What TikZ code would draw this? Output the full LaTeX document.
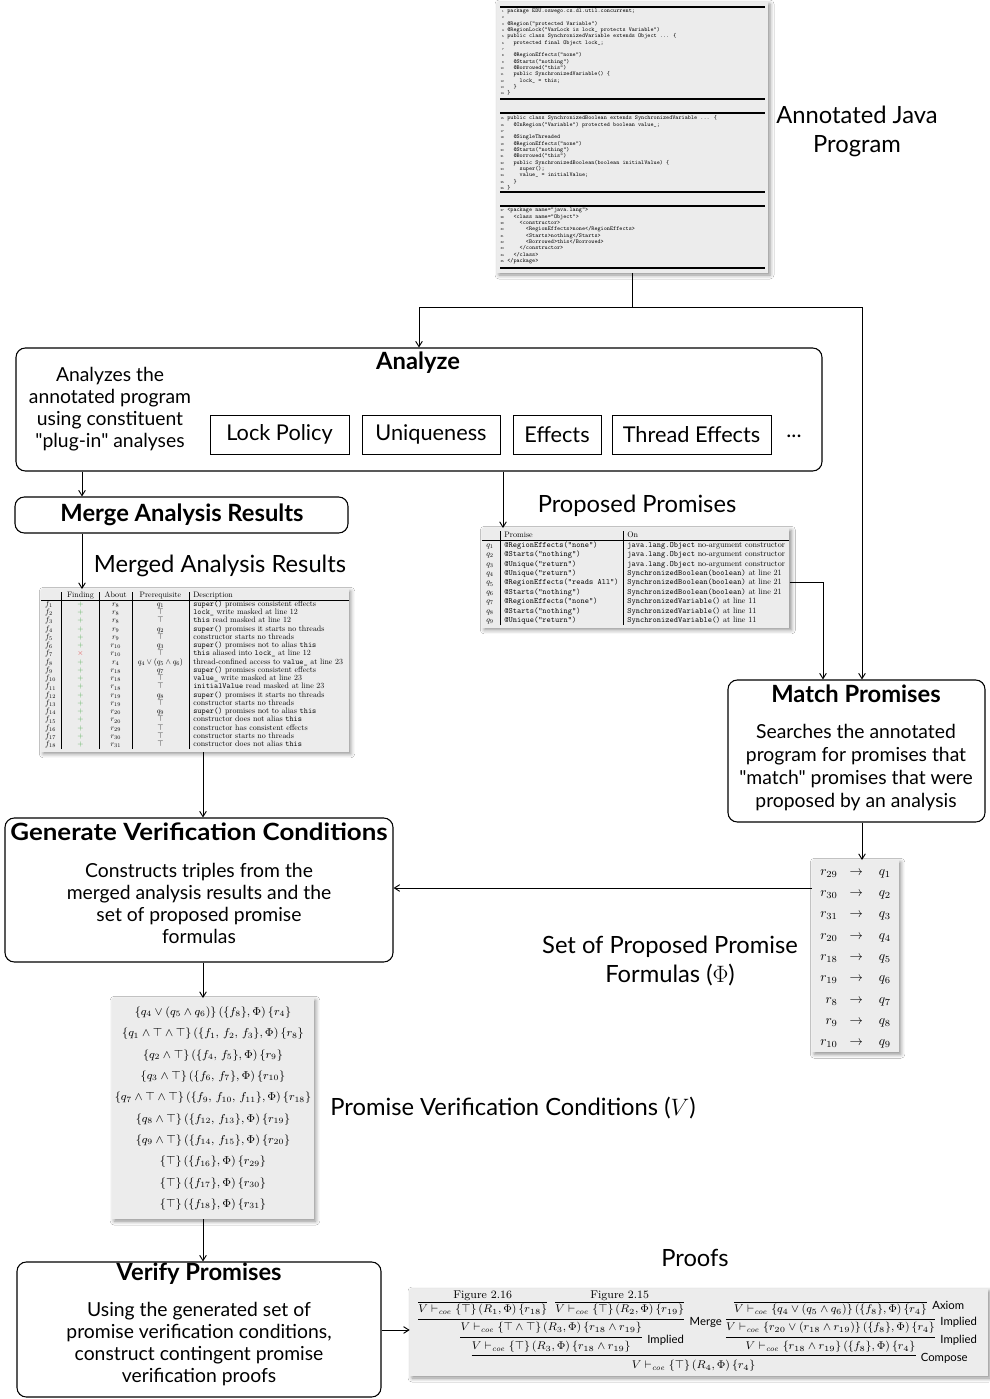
\RequirePackage{fix-cm}
\documentclass[tikz,border=0pt]{standalone}
\usepackage[no-math]{fontspec}
\usepackage{array}
\usepackage{graphicx}
\usetikzlibrary{arrows.meta,fit,calc,shadows.blur}
\newfontfamily\labelfont{Lato}
\definecolor{panelgray}{gray}{0.925}
\definecolor{okgreen}{RGB}{70,170,70}
\definecolor{badred}{RGB}{225,70,70}
% tiny line numbers for the code listing
\newcommand\lno[1]{\llap{\fontsize{2.4}{2.4}\selectfont#1\hspace{2.5pt}}}
\newcommand\coe{\vdash_{\mathit{coe}}}
\newcommand\ok{\textcolor{okgreen}{+}}
\newcommand\bad{\textcolor{badred}{$\times$}}
\newcommand\tcode[1]{\texttt{#1}}

\begin{document}
\begin{tikzpicture}[x=0.75pt,y=-0.75pt,
  panel/.style={fill=panelgray, inner sep=0pt,
    blur shadow={shadow xshift=1.5pt, shadow yshift=-1.5pt, shadow blur radius=3pt, shadow opacity=45}},
  stepbox/.style={draw, line width=0.8pt, rounded corners=7pt, inner sep=0pt},
  plugbox/.style={draw, line width=0.6pt, inner sep=0pt, font=\labelfont\fontsize{16.3}{19}\selectfont},
  title/.style={font=\labelfont\bfseries\fontsize{17.8}{21}\selectfont, inner sep=0pt},
  body/.style={font=\labelfont\fontsize{14.5}{16.5}\selectfont, align=center, inner sep=0pt},
  caption/.style={font=\labelfont\fontsize{17.8}{21.75}\selectfont, align=center, inner sep=0pt},
  conn/.style={line width=0.7pt},
  arr/.style={conn, -{Straight Barb[length=4pt,width=5pt]}},
  code/.style={font=\ttfamily\fontsize{4.4}{4.75}\selectfont, align=left, anchor=west, inner sep=0pt},
  coderule/.style={line width=0.9pt},
  rulelbl/.style={font=\labelfont\fontsize{8.5}{10}\selectfont, anchor=west, inner sep=0pt},
  fml/.style={inner sep=0pt, font=\fontsize{8.4}{11}\selectfont},
  infline/.style={line width=0.6pt},
]
\fill[white] (0,0) rectangle (989,1399);
\useasboundingbox (0,0) rectangle (989,1399);

% ---------- annotated Java program ----------
\node[panel, fit={(497,2) (768,273)}] (java) {};
\draw[coderule] (500,7) -- (765,7);
\draw[coderule] (500,99) -- (765,99);
\draw[coderule] (500,113) -- (765,113);
\draw[coderule] (500,192) -- (765,192);
\draw[coderule] (500,206) -- (765,206);
\draw[coderule] (500,268) -- (765,268);
\node[code] (code1) at (507,52) {%
\lno{1}package EDU.oswego.cs.dl.util.concurrent;\\
\lno{2}\\
\lno{3}@Region("protected Variable")\\
\lno{4}@RegionLock("VarLock is lock\_ protects Variable")\\
\lno{5}public class SynchronizedVariable extends Object ... \{\\
\lno{6}~~protected final Object lock\_;\\
\lno{7}\\
\lno{8}~~@RegionEffects("none")\\
\lno{9}~~@Starts("nothing")\\
\lno{10}~~@Borrowed("this")\\
\lno{11}~~public SynchronizedVariable() \{\\
\lno{12}~~~~lock\_ = this;\\
\lno{13}~~\}\\
\lno{14}\}};
\node[code] (code2) at (507,153) {%
\lno{15}public class SynchronizedBoolean extends SynchronizedVariable ... \{\\
\lno{16}~~@InRegion("Variable") protected boolean value\_;\\
\lno{17}\\
\lno{18}~~@SingleThreaded\\
\lno{19}~~@RegionEffects("none")\\
\lno{20}~~@Starts("nothing")\\
\lno{21}~~@Borrowed("this")\\
\lno{22}~~public SynchronizedBoolean(boolean initialValue) \{\\
\lno{23}~~~~super();\\
\lno{24}~~~~value\_ = initialValue;\\
\lno{25}~~\}\\
\lno{26}\}};
\node[code] (code3) at (507,236) {%
\lno{27}<package name="java.lang">\\
\lno{28}~~<class name="Object">\\
\lno{29}~~~~<constructor>\\
\lno{30}~~~~~~<RegionEffects>none</RegionEffects>\\
\lno{31}~~~~~~<Starts>nothing</Starts>\\
\lno{32}~~~~~~<Borrowed>this</Borrowed>\\
\lno{33}~~~~</constructor>\\
\lno{34}~~</class>\\
\lno{35}</package>};
\node[caption] (javacap) at (857,131) {Annotated Java\\Program};

% ---------- process boxes ----------
\node[stepbox, fit={(16,348) (822,471)}] (analyze) {};
\node[title] (analyzet) at (418,363) {Analyze};
\node[body] (analyzeb) at (110,409) {Analyzes the\\annotated program\\using constituent\\"plug-in" analyses};
\node[plugbox, minimum width=104.25pt, minimum height=29.25pt] (lock) at (279.5,434.5) {Lock Policy};
\node[plugbox, minimum width=103.5pt, minimum height=29.25pt] (uniq) at (431,434.5) {Uniqueness};
\node[plugbox, minimum width=66pt, minimum height=29.25pt] (eff) at (557,434.5) {Effects};
\node[plugbox, minimum width=119.25pt, minimum height=29.25pt] (thr) at (691.5,434.5) {Thread Effects};
\node[body, font=\labelfont\fontsize{16}{19}\selectfont] (more) at (794,436) {...};

\node[stepbox, fit={(15,497) (348,533)}] (merge) {};
\node[title] (merget) at (182,515) {Merge Analysis Results};

\node[stepbox, fit={(728,680) (985,822)}] (match) {};
\node[title] (matcht) at (856,694) {Match Promises};
\node[body, font=\labelfont\fontsize{14.5}{17.25}\selectfont] (matchb) at (856,768) {Searches the annotated\\program for promises that\\"match" promises that were\\proposed by an analysis};

\node[stepbox, fit={(5,818) (393,962)}] (gvc) {};
\node[title, xscale=1.09] (gvct) at (199,832) {Generate Verification Conditions};
\node[body] (gvcb) at (199,903) {Constructs triples from the\\merged analysis results and the\\set of proposed promise\\formulas};

\node[stepbox, fit={(17,1262) (381,1397)}] (verify) {};
\node[title] (verifyt) at (199,1274) {Verify Promises};
\node[body] (verifyb) at (199,1344.5) {Using the generated set of\\promise verification conditions,\\construct contingent promise\\verification proofs};

% ---------- merged analysis results (a 10pt table, reduced) ----------
\node[caption] (mcap) at (220,566) {Merged Analysis Results};
\node[panel, anchor=north west, inner ysep=2pt] (mtab) at (41,589) {%
\scalebox{0.595}{\fontsize{10}{10.4}\selectfont\setlength\tabcolsep{0pt}%
\begin{tabular}{@{\hspace{5pt}}w{l}{20pt}|w{c}{48pt}|w{c}{40pt}|w{c}{72pt}|@{\hspace{5pt}}w{l}{193pt}@{\hspace{3pt}}}
 & Finding & About & Prerequisite & Description\\\hline
$f_{1}$ & \ok & $r_{8}$ & $q_{1}$ & \tcode{super()} promises consistent effects\\
$f_{2}$ & \ok & $r_{8}$ & $\top$ & \tcode{lock\_} write masked at line 12\\
$f_{3}$ & \ok & $r_{8}$ & $\top$ & \tcode{this} read masked at line 12\\
$f_{4}$ & \ok & $r_{9}$ & $q_{2}$ & \tcode{super()} promises it starts no threads\\
$f_{5}$ & \ok & $r_{9}$ & $\top$ & constructor starts no threads\\
$f_{6}$ & \ok & $r_{10}$ & $q_{3}$ & \tcode{super()} promises not to alias \tcode{this}\\
$f_{7}$ & \bad & $r_{10}$ & $\top$ & \tcode{this} aliased into \tcode{lock\_} at line 12\\
$f_{8}$ & \ok & $r_{4}$ & $q_4\vee(q_5\wedge q_6)$ & thread-confined access to \tcode{value\_} at line 23\\
$f_{9}$ & \ok & $r_{18}$ & $q_{7}$ & \tcode{super()} promises consistent effects\\
$f_{10}$ & \ok & $r_{18}$ & $\top$ & \tcode{value\_} write masked at line 23\\
$f_{11}$ & \ok & $r_{18}$ & $\top$ & \tcode{initialValue} read masked at line 23\\
$f_{12}$ & \ok & $r_{19}$ & $q_{8}$ & \tcode{super()} promises it starts no threads\\
$f_{13}$ & \ok & $r_{19}$ & $\top$ & constructor starts no threads\\
$f_{14}$ & \ok & $r_{20}$ & $q_{9}$ & \tcode{super()} promises not to alias \tcode{this}\\
$f_{15}$ & \ok & $r_{20}$ & $\top$ & constructor does not alias \tcode{this}\\
$f_{16}$ & \ok & $r_{29}$ & $\top$ & constructor has consistent effects\\
$f_{17}$ & \ok & $r_{30}$ & $\top$ & constructor starts no threads\\
$f_{18}$ & \ok & $r_{31}$ & $\top$ & constructor does not alias \tcode{this}
\end{tabular}}};

% ---------- proposed promises (a 10pt table, reduced) ----------
\node[caption] (pcap) at (637,506) {Proposed Promises};
\node[panel, anchor=north west, inner ysep=2pt] (ptab) at (482,528) {%
\scalebox{0.605}{\fontsize{10}{11.65}\selectfont\setlength\tabcolsep{0pt}%
\begin{tabular}{@{\hspace{5pt}}w{l}{17pt}|@{\hspace{5pt}}w{l}{147pt}|@{\hspace{5pt}}w{l}{200pt}@{\hspace{1pt}}}
 & Promise & On\\\hline
$q_1$ & \tcode{@RegionEffects("none")} & \tcode{java.lang.Object} no-argument constructor\\
$q_2$ & \tcode{@Starts("nothing")} & \tcode{java.lang.Object} no-argument constructor\\
$q_3$ & \tcode{@Unique("return")} & \tcode{java.lang.Object} no-argument constructor\\
$q_4$ & \tcode{@Unique("return")} & \tcode{SynchronizedBoolean(boolean)} at line 21\\
$q_5$ & \tcode{@RegionEffects("reads All")} & \tcode{SynchronizedBoolean(boolean)} at line 21\\
$q_6$ & \tcode{@Starts("nothing")} & \tcode{SynchronizedBoolean(boolean)} at line 21\\
$q_7$ & \tcode{@RegionEffects("none")} & \tcode{SynchronizedVariable()} at line 11\\
$q_8$ & \tcode{@Starts("nothing")} & \tcode{SynchronizedVariable()} at line 11\\
$q_9$ & \tcode{@Unique("return")} & \tcode{SynchronizedVariable()} at line 11
\end{tabular}}};

% ---------- promise formulas ----------
\node[panel, anchor=north west, inner xsep=6pt, inner ysep=0pt] (map) at (812,860) {%
\fontsize{10}{16}\selectfont\setlength\tabcolsep{0pt}%
\begin{tabular}{r@{\hspace{9pt}}c@{\hspace{12pt}}l}
$r_{29}$ & $\rightarrow$ & $q_1$\\
$r_{30}$ & $\rightarrow$ & $q_2$\\
$r_{31}$ & $\rightarrow$ & $q_3$\\
$r_{20}$ & $\rightarrow$ & $q_4$\\
$r_{18}$ & $\rightarrow$ & $q_5$\\
$r_{19}$ & $\rightarrow$ & $q_6$\\
$r_{8}$ & $\rightarrow$ & $q_7$\\
$r_{9}$ & $\rightarrow$ & $q_8$\\
$r_{10}$ & $\rightarrow$ & $q_9$
\end{tabular}};
\node[caption] (mapcap) at (670,961) {Set of Proposed Promise\\Formulas ($\Phi$)};

% ---------- verification conditions ----------
\node[panel, anchor=north, inner xsep=2pt, inner ysep=6.5pt, align=center, font=\fontsize{8.6}{16}\selectfont] (vc) at (213,998) {%
$\{q_4\vee(q_5\wedge q_6)\}\,(\{f_8\},\Phi)\,\{r_4\}$\\
$\{q_1\wedge\top\wedge\top\}\,(\{f_1,\,f_2,\,f_3\},\Phi)\,\{r_8\}$\\
$\{q_2\wedge\top\}\,(\{f_4,\,f_5\},\Phi)\,\{r_9\}$\\
$\{q_3\wedge\top\}\,(\{f_6,\,f_7\},\Phi)\,\{r_{10}\}$\\
$\{q_7\wedge\top\wedge\top\}\,(\{f_9,\,f_{10},\,f_{11}\},\Phi)\,\{r_{18}\}$\\
$\{q_8\wedge\top\}\,(\{f_{12},\,f_{13}\},\Phi)\,\{r_{19}\}$\\
$\{q_9\wedge\top\}\,(\{f_{14},\,f_{15}\},\Phi)\,\{r_{20}\}$\\
$\{\top\}\,(\{f_{16}\},\Phi)\,\{r_{29}\}$\\
$\{\top\}\,(\{f_{17}\},\Phi)\,\{r_{30}\}$\\
$\{\top\}\,(\{f_{18}\},\Phi)\,\{r_{31}\}$};
\node[caption] (vccap) at (513,1108) {Promise Verification Conditions ($V$)};

% ---------- proofs ----------
\node[caption] (proofcap) at (695,1258) {Proofs};
\node[panel, fit={(410,1289) (988,1376)}] (proof) {};
\coordinate (y0) at (0,1302);
\coordinate (y1) at (0,1319);
\coordinate (y2) at (0,1337);
\coordinate (y3) at (0,1355);
\node[fml, anchor=west] (p1) at (418,1310) {$V\coe\{\top\}\,(R_1,\Phi)\,\{r_{18}\}$};
\node[fml, anchor=west] (p2) at (555,1310) {$V\coe\{\top\}\,(R_2,\Phi)\,\{r_{19}\}$};
\node[fml] (fig16) at ($(p1)+(0,-14)$) {Figure 2.16};
\node[fml] (fig15) at ($(p2)+(0,-14)$) {Figure 2.15};
\node[fml] (p3) at ($(p1.west)!0.5!(p2.east)+(0,18)$) {$V\coe\{\top\wedge\top\}\,(R_3,\Phi)\,\{r_{18}\wedge r_{19}\}$};
\node[fml] (p4) at ($(p3)+(0,19)$) {$V\coe\{\top\}\,(R_3,\Phi)\,\{r_{18}\wedge r_{19}\}$};
\node[fml] (a2) at (830.5,1328) {$V\coe\{r_{20}\vee(r_{18}\wedge r_{19})\}\,(\{f_8\},\Phi)\,\{r_4\}$};
\node[fml] (a1) at ($(a2)+(0,-18)$) {$V\coe\{q_4\vee(q_5\wedge q_6)\}\,(\{f_8\},\Phi)\,\{r_4\}$};
\node[fml] (a3) at ($(a2)+(0,19)$) {$V\coe\{r_{18}\wedge r_{19}\}\,(\{f_8\},\Phi)\,\{r_4\}$};
\draw[infline] (p1.west |- y0) -- (p1.east |- y0);
\draw[infline] (p2.west |- y0) -- (p2.east |- y0);
\draw[infline] (p1.west |- y1) -- (p2.east |- y1);
\draw[infline] (p3.west |- y2) -- (p3.east |- y2);
\draw[infline] (a1.west |- y0) -- (a1.east |- y0);
\draw[infline] (a2.west |- y1) -- (a2.east |- y1);
\draw[infline] (a2.west |- y2) -- (a2.east |- y2);
\draw[infline] (p4.west |- y3) -- (a3.east |- y3);
\node[fml] (concl) at ($(p4.west |- y3)!0.5!(a3.east |- y3)+(0,11)$) {$V\coe\{\top\}\,(R_4,\Phi)\,\{r_4\}$};
\node[rulelbl] (lmerge) at ($(p2.east |- y1)+(5,3)$) {Merge};
\node[rulelbl] (limp1) at ($(p3.east |- y2)+(5,3)$) {Implied};
\node[rulelbl] (laxiom) at ($(a1.east |- y0)+(5,3)$) {Axiom};
\node[rulelbl] (limp2) at ($(a2.east |- y1)+(5,3)$) {Implied};
\node[rulelbl] (limp3) at ($(a2.east |- y2)+(5,3)$) {Implied};
\node[rulelbl] (lcomp) at ($(a3.east |- y3)+(5,3)$) {Compose};

% ---------- connectors ----------
\coordinate (split) at (632.5,307);
\coordinate (rb) at (862,307);
\coordinate (cL) at (82,0);
\coordinate (cP) at (503,0);
\coordinate (cV) at (203,0);
\coordinate (pq) at (823,582);
\coordinate (mr) at (0,888);
\coordinate (pr) at (0,1330);
\draw[conn] (java.south) -- (split);
\draw[arr] (split) -| (analyze.north);
\draw[conn] (split) -- (rb);
\draw[arr] (rb) -- (rb |- match.north);
\draw[arr] (analyze.south -| cL) -- (merge.north -| cL);
\draw[arr] (analyze.south -| cP) -- (ptab.north -| cP);
\draw[arr] (merge.south -| cL) -- (mtab.north -| cL);
\draw[arr] (ptab.east |- pq) -| (match.north -| pq);
\draw[arr] (match.south -| rb) -- (map.north -| rb);
\draw[arr] (map.west |- mr) -- (gvc.east |- mr);
\draw[arr] (mtab.south -| cV) -- (gvc.north -| cV);
\draw[arr] (gvc.south -| cV) -- (vc.north -| cV);
\draw[arr] (vc.south -| cV) -- (verify.north -| cV);
\draw[arr] (verify.east |- pr) -- (proof.west |- pr);
\end{tikzpicture}
\end{document}
